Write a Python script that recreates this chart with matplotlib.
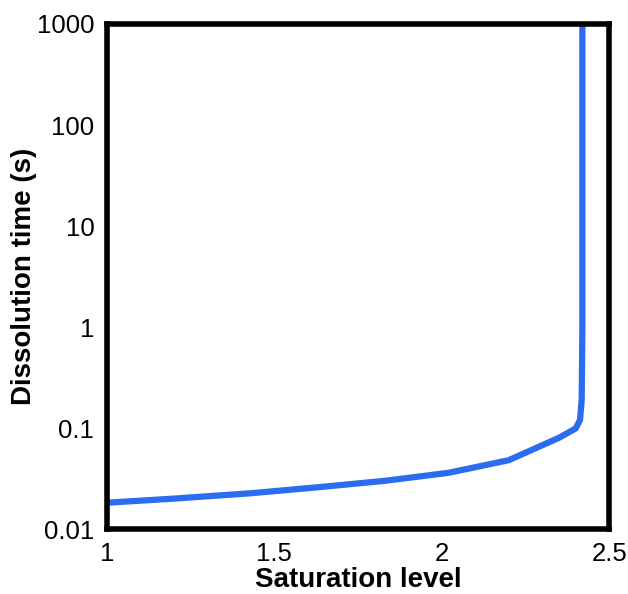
import matplotlib
matplotlib.use("Agg")
import matplotlib.pyplot as plt

plt.rcParams['font.family'] = ['Liberation Sans', 'DejaVu Sans']

# values
saturation = [1.0, 1.2, 1.43, 1.63, 1.83, 2.02, 2.2, 2.35, 2.40, 2.413, 2.418, 2.42, 2.42]
diss_time = [0.0182, 0.0200, 0.0226, 0.0259, 0.030, 0.036, 0.048, 0.080, 0.099, 0.12, 0.19, 1.0, 1000]

x_ticks = [1, 1.5, 2, 2.5]
x_tick_labels = ['1', '1.5', '2', '2.5']
y_ticks = [0.01, 0.1, 1, 10, 100, 1000]
y_tick_labels = ['0.01', '0.1', '1', '10', '100', '1000']

fig = plt.figure(figsize=(6.28, 5.94), dpi=100)
ax = fig.add_axes([0.170, 0.1094, 0.800, 0.8502])

ax.plot(saturation, diss_time, color='#2b6cf0', lw=4.5, solid_joinstyle='round')

ax.set_yscale('log')
ax.set_xlim(1, 2.5)
ax.set_ylim(0.01, 1000)

ax.set_xticks(x_ticks)
ax.set_xticklabels(x_tick_labels)
ax.set_yticks(y_ticks)
ax.set_yticklabels(y_tick_labels)
ax.minorticks_off()
ax.tick_params(length=0, labelsize=18.5, pad=9)

for s in ax.spines.values():
    s.set_linewidth(4)
    s.set_color('black')

ax.set_xlabel('Saturation level', fontsize=20, fontweight='bold', labelpad=1)
ax.set_ylabel('Dissolution time (s)', fontsize=20, fontweight='bold')
# label sits close to the tick numbers, nearly touching "1000"
ax.yaxis.set_label_coords(-0.139, 0.5)

fig.savefig('out.png', dpi=100)
